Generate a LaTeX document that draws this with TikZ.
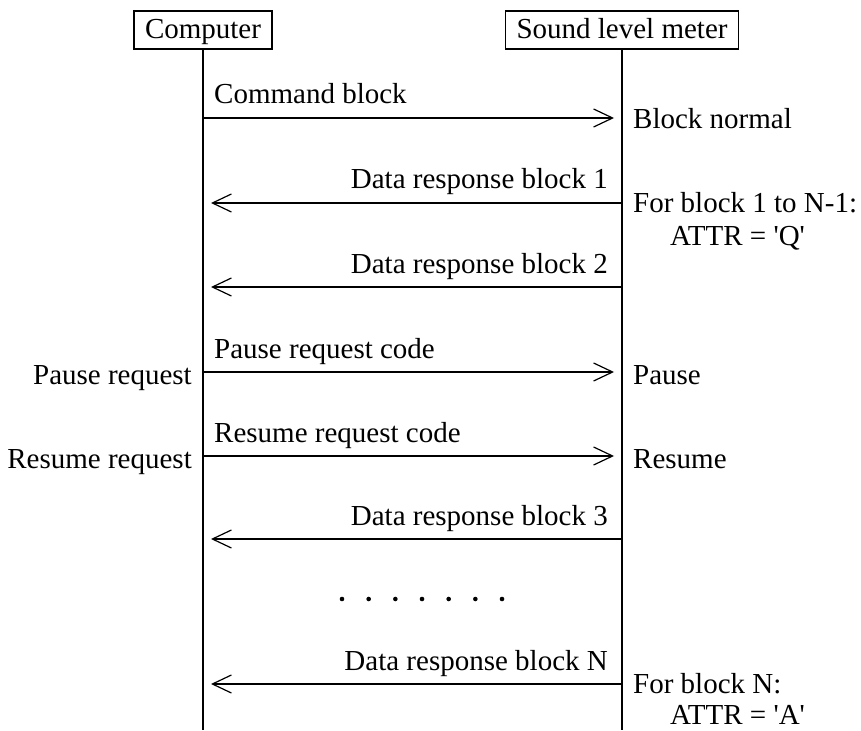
\documentclass[tikz,border=0pt]{standalone}
\usepackage{fontspec}
\setmainfont{Liberation Serif}[Ligatures=TeXOff]
\usetikzlibrary{arrows.meta}
\tikzstyle{HeadNode}=[rectangle, draw=black, line width=1.3pt, inner xsep=11pt, inner ysep=5pt, text height=22pt, text depth=5pt, minimum height=38pt]
\tikzstyle{TextNode}=[inner sep=0pt]
\tikzstyle{LifeLine}=[line width=1.3pt]
\tikzstyle{MsgEdge}=[-{Straight Barb[length=19pt, width=18pt]}, line width=1.2pt, shorten >=8pt]
\tikzstyle{Dot}=[fill=black]

\begin{document}
\begin{tikzpicture}[x=1pt, y=-1pt, font=\fontsize{29}{33}\selectfont]
\useasboundingbox (0,0) rectangle (861,730);

% participants
\node[HeadNode](Comp) at (203,30) {Computer};
\node[HeadNode](SLM) at (622,30) {Sound level meter};
\coordinate (CompEnd) at (203,730);
\coordinate (SLMEnd) at (622,730);
\draw[LifeLine](Comp) -- (CompEnd);
\draw[LifeLine](SLM) -- (SLMEnd);

% message points on the lifelines
\coordinate (C1) at (203,118); \coordinate (S1) at (622,118);
\coordinate (C2) at (203,203); \coordinate (S2) at (622,203);
\coordinate (C3) at (203,287); \coordinate (S3) at (622,287);
\coordinate (C4) at (203,372); \coordinate (S4) at (622,372);
\coordinate (C5) at (203,456); \coordinate (S5) at (622,456);
\coordinate (C6) at (203,539); \coordinate (S6) at (622,539);
\coordinate (C7) at (203,684); \coordinate (S7) at (622,684);

\draw[MsgEdge](C1) -- (S1);
\draw[MsgEdge](S2) -- (C2);
\draw[MsgEdge](S3) -- (C3);
\draw[MsgEdge](C4) -- (S4);
\draw[MsgEdge](C5) -- (S5);
\draw[MsgEdge](S6) -- (C6);
\draw[MsgEdge](S7) -- (C7);

% message labels
\node[TextNode, anchor=base west](CmdLbl) at (214,104) {Command block};
\node[TextNode, anchor=base east](Dat1Lbl) at (608,189) {Data response block 1};
\node[TextNode, anchor=base east](Dat2Lbl) at (608,273) {Data response block 2};
\node[TextNode, anchor=base west](PauseLbl) at (214,358) {Pause request code};
\node[TextNode, anchor=base west](ResumeLbl) at (214,442) {Resume request code};
\node[TextNode, anchor=base east](Dat3Lbl) at (608,525) {Data response block 3};
\node[TextNode, anchor=base east](DatNLbl) at (608,670) {Data response block N};

% notes
\node[TextNode, anchor=base east](PauseReq) at (192,384) {Pause request};
\node[TextNode, anchor=base east](ResumeReq) at (192,468) {Resume request};
\node[TextNode, anchor=base west](BlkNormal) at (633,129) {Block normal};
\node[TextNode, anchor=base west](ForBlk) at (633,212) {For block 1 to N-1:};
\node[TextNode, anchor=base west](AttrQ) at (670,245) {ATTR = 'Q'};
\node[TextNode, anchor=base west](PauseNote) at (633,384) {Pause};
\node[TextNode, anchor=base west](ResumeNote) at (633,468) {Resume};
\node[TextNode, anchor=base west](ForBlkN) at (633,693) {For block N:};
\node[TextNode, anchor=base west](AttrA) at (670,724) {ATTR = 'A'};

% dots
\foreach \i in {0,...,6}
  \fill[Dot] (342+26.67*\i,599) circle (2.3pt);
\end{tikzpicture}
\end{document}
